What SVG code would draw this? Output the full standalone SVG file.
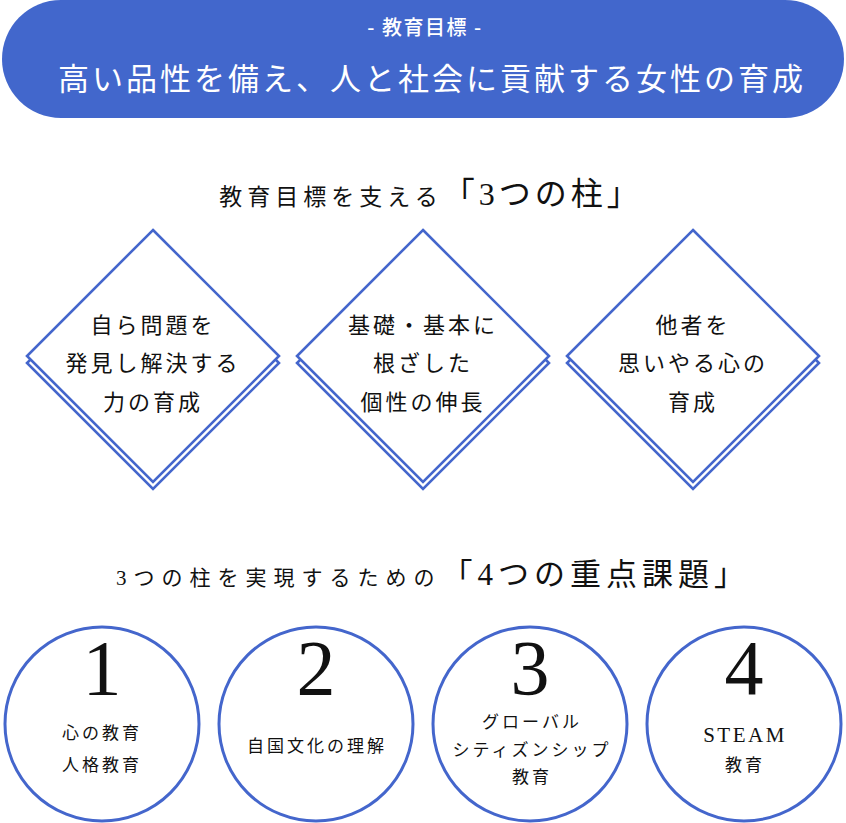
<svg xmlns="http://www.w3.org/2000/svg" width="846" height="823" viewBox="0 0 846 823">
<style>
.serif{font-family:"Liberation Serif","Noto Sans CJK JP",serif;fill:#111;}
.sans{font-family:"Noto Sans CJK JP","Liberation Sans",sans-serif;}
.dia{fill:#fff;stroke:#4466CC;stroke-width:2.6;}
.circ{fill:#fff;stroke:#4466CC;stroke-width:3;}
.dt{font-size:22px;letter-spacing:3px;text-anchor:middle;}
.ct{font-size:17px;letter-spacing:3px;text-anchor:middle;}
.num{font-size:78px;text-anchor:middle;}
</style>
<rect width="846" height="823" fill="#fff"/>
<g id="header">
<rect x="2" y="0" width="842" height="118" rx="59" ry="59" fill="#4267CC"/>
<text class="sans" x="425" y="35" font-size="20" font-weight="500" letter-spacing="1.5" fill="#fff" text-anchor="middle">- 教育目標 -</text>
<text class="serif" x="432" y="90" font-size="31" letter-spacing="3" style="fill:#fff" text-anchor="middle">高い品性を備え、人と社会に貢献する女性の育成</text>
</g>
<g id="heading1">
<text class="serif" x="431" y="205" text-anchor="middle"><tspan font-size="23" letter-spacing="5">教育目標を支える</tspan><tspan font-size="32" letter-spacing="4">「3つの柱」</tspan></text>
</g>
<g id="pillar1">
<polygon class="dia" points="153,237 279,363 153,489 27,363"/>
<polygon class="dia" points="153,230 279,356 153,482 27,356"/>
<text class="serif dt" x="153" y="333">自ら問題を</text>
<text class="serif dt" x="153" y="371">発見し解決する</text>
<text class="serif dt" x="153" y="410">力の育成</text>
</g>
<g id="pillar2">
<polygon class="dia" points="423,237 549,363 423,489 297,363"/>
<polygon class="dia" points="423,230 549,356 423,482 297,356"/>
<text class="serif dt" x="423" y="333">基礎・基本に</text>
<text class="serif dt" x="423" y="371">根ざした</text>
<text class="serif dt" x="423" y="410">個性の伸長</text>
</g>
<g id="pillar3">
<polygon class="dia" points="693,237 819,363 693,489 567,363"/>
<polygon class="dia" points="693,230 819,356 693,482 567,356"/>
<text class="serif dt" x="693" y="333">他者を</text>
<text class="serif dt" x="693" y="371">思いやる心の</text>
<text class="serif dt" x="693" y="410">育成</text>
</g>
<g id="heading2">
<text class="serif" x="433" y="585" text-anchor="middle"><tspan font-size="21" letter-spacing="7">3つの柱を実現するための</tspan><tspan font-size="31" letter-spacing="5">「4つの重点課題」</tspan></text>
</g>
<g id="issue1">
<circle class="circ" cx="102" cy="724" r="97"/>
<text class="serif num" x="102" y="694">1</text>
<text class="serif ct" x="102" y="739">心の教育</text>
<text class="serif ct" x="102" y="771">人格教育</text>
</g>
<g id="issue2">
<circle class="circ" cx="316" cy="724" r="97"/>
<text class="serif num" x="316" y="694">2</text>
<text class="serif ct" x="317" y="752">自国文化の理解</text>
</g>
<g id="issue3">
<circle class="circ" cx="530" cy="724" r="97"/>
<text class="serif num" x="530" y="694">3</text>
<text class="serif ct" x="532" y="728">グローバル</text>
<text class="serif ct" x="532" y="756">シティズンシップ</text>
<text class="serif ct" x="532" y="783">教育</text>
</g>
<g id="issue4">
<circle class="circ" cx="744" cy="724" r="97"/>
<text class="serif num" x="744" y="694">4</text>
<text class="serif ct" x="745" y="742" style="font-size:21px;letter-spacing:2.5px">STEAM</text>
<text class="serif ct" x="745" y="771">教育</text>
</g>
<g id="connectors"></g>
</svg>
